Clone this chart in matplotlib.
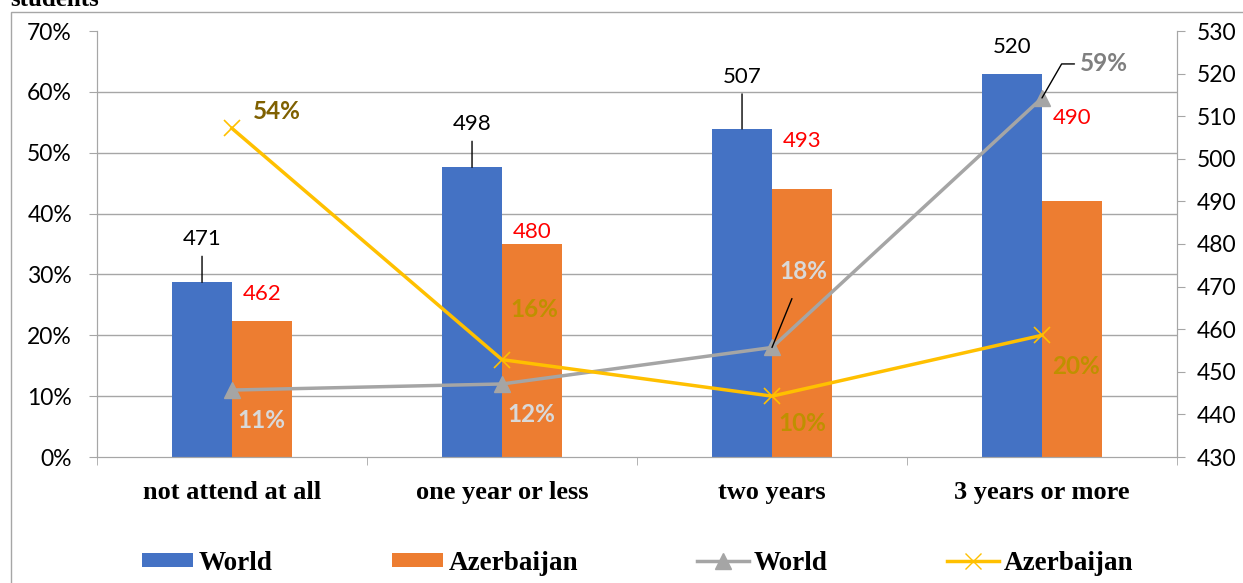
import numpy as np
import matplotlib.pyplot as plt
from matplotlib.patches import Rectangle, Patch
from matplotlib.lines import Line2D

# data
categories = ["not attend at all", "one year or less", "two years", "3 years or more"]
score_world = [471, 498, 507, 520]
score_azer = [462, 480, 493, 490]
share_world = [0.11, 0.12, 0.18, 0.59]
share_azer = [0.54, 0.16, 0.10, 0.20]
score_ticks = list(range(430, 531, 10))
share_ticks = [0, 0.1, 0.2, 0.3, 0.4, 0.5, 0.6, 0.7]

blue = "#4472C4"
orange = "#ED7D31"
gray = "#A5A5A5"
yellow = "#FFC000"
axis_gray = "#A6A6A6"

sans = "Lato"
serif = "Liberation Serif"

fig = plt.figure(figsize=(12.43, 5.83), dpi=100)
axb = fig.add_axes([97 / 1243, 126 / 583, 1080 / 1243, 426 / 583])
axl = axb.twinx()

x = np.arange(len(categories))
w = 0.222

# bars: scores, right axis
axb.bar(x - w / 2, score_world, w, color=blue, zorder=2)
axb.bar(x + w / 2, score_azer, w, color=orange, zorder=2)
axb.set_ylim(430, 530)
axb.set_xlim(-0.5, 3.5)
axb.yaxis.tick_right()
axb.set_yticks(score_ticks)
axb.set_yticklabels([str(t) for t in score_ticks], fontfamily=sans, fontsize=16.5)
axb.set_yticks(np.linspace(430, 530, len(share_ticks)), minor=True)
axb.grid(which="minor", axis="y", color=axis_gray, lw=1, zorder=0)
axb.tick_params(axis="y", which="minor", length=0)
axb.tick_params(axis="y", which="major", length=6, color=axis_gray, pad=8)

axb.set_xticks(x)
axb.set_xticklabels(categories, fontfamily=serif, fontweight="bold", fontsize=19)
axb.set_xticks(np.arange(-0.5, 3.6, 1), minor=True)
axb.tick_params(axis="x", which="major", length=0, pad=17)
axb.tick_params(axis="x", which="minor", length=6, color=axis_gray)
axb.spines["top"].set_visible(False)
for side in ["left", "right", "bottom"]:
    axb.spines[side].set_color(axis_gray)

world_off = [43, 43, 52, 27]
for i, v in enumerate(score_world):
    arrow = dict(arrowstyle="-", color="black", lw=1, shrinkA=3, shrinkB=0) if world_off[i] > 35 else None
    axb.annotate(str(v), (x[i] - w / 2, v), xytext=(0, world_off[i]), textcoords="offset pixels",
                 ha="center", va="center", fontsize=16, fontfamily=sans, color="black",
                 arrowprops=arrow, zorder=5)
azer_off = [27, 12, 48, 83]
for i, v in enumerate(score_azer):
    axb.annotate(str(v), (x[i] + w / 2, v), xytext=(0, azer_off[i]), textcoords="offset pixels",
                 ha="center", va="center", fontsize=16, fontfamily=sans, color="red", zorder=5)

# lines: shares, left axis
axl.yaxis.tick_left()
axl.plot(x, share_world, color=gray, lw=2.5, marker="^", ms=11, zorder=3)
axl.plot(x, share_azer, color=yellow, lw=2.5, marker="x", ms=11, mew=1.2, zorder=3)
axl.set_ylim(0, 0.7)
axl.set_yticks(share_ticks)
axl.set_yticklabels([f"{int(round(t * 100))}%" for t in share_ticks], fontfamily=sans, fontsize=16.5)
axl.tick_params(axis="y", length=6, color=axis_gray, pad=12)
axl.spines["top"].set_visible(False)
for side in ["left", "right", "bottom"]:
    axl.spines[side].set_color(axis_gray)

world_pct_off = [(29, -30), (29, -31), (31, 76), (62, 34)]
world_pct_col = ["#D9D9D9", "#D9D9D9", "#D9D9D9", "#7F7F7F"]
for i, v in enumerate(share_world):
    arrow = None
    if i == 2:
        arrow = dict(arrowstyle="-", color="black", lw=1, shrinkA=10, shrinkB=0)
    if i == 3:
        arrow = dict(arrowstyle="-", color="black", lw=1, shrinkA=2, shrinkB=0,
                     connectionstyle="angle,angleA=0,angleB=60,rad=0")
    axl.annotate(f"{int(round(v * 100))}%", (x[i], v), xytext=world_pct_off[i], textcoords="offset pixels",
                 ha="center", va="center", fontsize=17.5, fontweight="bold", fontfamily=sans,
                 color=world_pct_col[i], arrowprops=arrow, zorder=6)

azer_pct_off = [(45, 17), (32, 50), (30, -27), (34, -31)]
azer_pct_col = ["#7F6000", "#BF9000", "#BF9000", "#BF9000"]
for i, v in enumerate(share_azer):
    axl.annotate(f"{int(round(v * 100))}%", (x[i], v), xytext=azer_pct_off[i], textcoords="offset pixels",
                 ha="center", va="center", fontsize=17.5, fontweight="bold", fontfamily=sans,
                 color=azer_pct_col[i], zorder=6)

# legend
handles = [
    Patch(facecolor=blue, label="World"),
    Patch(facecolor=orange, label="Azerbaijan"),
    Line2D([], [], color=gray, lw=2.5, marker="^", ms=11, label="World"),
    Line2D([], [], color=yellow, lw=2.5, marker="x", ms=11, label="Azerbaijan"),
]
fig.legend(handles=handles, loc="center", bbox_to_anchor=(0.513, 0.034), ncol=4, frameon=False,
           prop={"family": serif, "weight": "bold", "size": 19.5}, handlelength=1.9, handleheight=0.45,
           columnspacing=4.4, handletextpad=0.2)

# outer frame and cut-off title
fig.add_artist(Rectangle((11 / 1243, -0.1), 1.2, 1 - 12 / 583 + 0.1, transform=fig.transFigure,
                         fill=False, edgecolor=axis_gray, lw=1))
fig.text(10 / 1243, 1 - 6 / 583, "students", fontfamily=serif, fontweight="bold", fontsize=18, va="baseline")

fig.savefig("out.png", dpi=100)
